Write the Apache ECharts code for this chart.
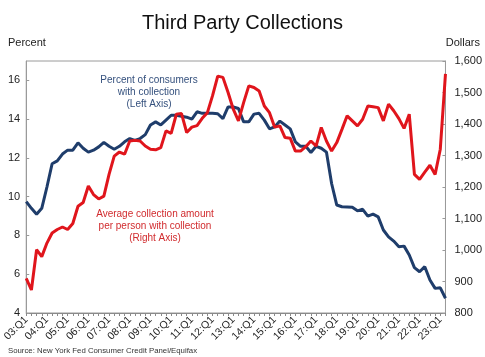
<!DOCTYPE html>
<html>
<head>
<meta charset="utf-8">
<script src="https://cdn.jsdelivr.net/npm/echarts@6/dist/echarts.min.js"></script>
<style>
html,body{margin:0;padding:0;background:#fff;}
#chart{width:485px;height:357px;}
</style>
</head>
<body>
<div id="chart"></div>
<script>
// Quarters 03:Q1 .. 23:Q2
var quarters = [];
for (var y = 3; y <= 23; y++) {
  for (var q = 1; q <= 4; q++) {
    if (y === 23 && q > 2) break;
    quarters.push((y < 10 ? '0' + y : '' + y) + ':Q' + q);
  }
}

// Percent of consumers with collection (left axis, %)
var pctConsumers = [
  9.75, 9.4, 9.1, 9.4, 10.5, 11.7, 11.85, 12.2, 12.4, 12.4,
  12.78, 12.5, 12.3, 12.4, 12.57, 12.8, 12.6, 12.45, 12.6, 12.83,
  13.0, 12.9, 13.0, 13.2, 13.7, 13.86, 13.7, 13.95, 14.2, 14.2,
  14.15, 14.1, 14.0, 14.38, 14.3, 14.3, 14.3, 14.28, 14.03, 14.63,
  14.63, 14.55, 13.86, 13.86, 14.26, 14.3, 13.95, 13.5, 13.6, 13.9,
  13.7, 13.5, 12.83, 12.6, 12.6, 12.28, 12.6, 12.5, 12.3, 10.68,
  9.57, 9.48, 9.47, 9.45, 9.27, 9.35, 9.0, 9.1, 8.96, 8.28,
  7.93, 7.71, 7.42, 7.45, 6.99, 6.34, 6.13, 6.39, 5.7, 5.27,
  5.3, 4.76
];

// Average collection amount per person with collection (right axis, $)
var avgAmount = [
  910, 873, 1001, 979, 1022, 1054, 1065, 1073, 1065, 1084,
  1139, 1151, 1203, 1176, 1162, 1171, 1240, 1298, 1311, 1304,
  1346, 1348, 1346, 1330, 1320, 1318, 1325, 1378, 1370, 1431,
  1433, 1373, 1390, 1395, 1418, 1436, 1490, 1552, 1548, 1500,
  1447, 1410, 1468, 1521, 1516, 1505, 1457, 1436, 1390, 1394,
  1357, 1355, 1314, 1314, 1328, 1346, 1330, 1389, 1346, 1314,
  1341, 1383, 1426, 1410, 1394, 1415, 1457, 1455, 1452, 1410,
  1463, 1442, 1417, 1386, 1431, 1240, 1224, 1247, 1269, 1240,
  1320, 1559
];

var chart = echarts.init(document.getElementById('chart'), null, {renderer: 'canvas'});
var FONT = 'Liberation Sans, Arial, sans-serif';

function comma(v) {
  var s = String(v);
  return s.length > 3 ? s.slice(0, s.length - 3) + ',' + s.slice(s.length - 3) : s;
}

chart.setOption({
  animation: false,
  backgroundColor: '#ffffff',
  textStyle: {fontFamily: FONT},
  title: {
    text: 'Third Party Collections',
    left: 'center',
    top: 8,
    textStyle: {fontFamily: FONT, fontSize: 20, fontWeight: 'normal', color: '#111'}
  },
  grid: {
    left: 23, right: 37, top: 61, bottom: 44,
    show: true, borderColor: '#9a9a9a', borderWidth: 1
  },
  xAxis: {
    type: 'category',
    data: quarters,
    boundaryGap: false,
    axisLine: {lineStyle: {color: '#8a8a8a'}},
    axisTick: {show: true, interval: 0, length: 3, lineStyle: {color: '#8a8a8a'}},
    axisLabel: {
      interval: 3, rotate: 45, fontSize: 10.5, color: '#222', margin: 5, fontFamily: FONT
    },
    splitLine: {show: false}
  },
  yAxis: [
    {
      type: 'value', min: 4, max: 17, interval: 2,
      axisLine: {show: true, lineStyle: {color: '#9a9a9a'}},
      axisTick: {show: true, inside: true, length: 3, lineStyle: {color: '#9a9a9a'}},
      axisLabel: {fontSize: 11, color: '#222', margin: 6, showMaxLabel: false, fontFamily: FONT},
      splitLine: {show: false}
    },
    {
      type: 'value', min: 800, max: 1600, interval: 100,
      axisLine: {show: true, lineStyle: {color: '#9a9a9a'}},
      axisTick: {show: true, inside: true, length: 3, lineStyle: {color: '#9a9a9a'}},
      axisLabel: {fontSize: 11, color: '#222', margin: 9, formatter: comma, fontFamily: FONT},
      splitLine: {show: false}
    }
  ],
  series: [
    {
      name: 'Percent of consumers with collection',
      type: 'line', yAxisIndex: 0, data: pctConsumers,
      showSymbol: false, smooth: false,
      lineStyle: {color: '#1f3d6b', width: 3},
      z: 2
    },
    {
      name: 'Average collection amount per person with collection',
      type: 'line', yAxisIndex: 1, data: avgAmount,
      showSymbol: false, smooth: false,
      lineStyle: {color: '#e0151c', width: 3},
      z: 3
    }
  ],
  graphic: [
    {type: 'text', left: 8, top: 37, style: {text: 'Percent', font: '11px ' + FONT, fill: '#222'}},
    {type: 'text', right: 5, top: 37, style: {text: 'Dollars', font: '11px ' + FONT, fill: '#222'}},
    {type: 'text', x: 149, y: 74, style: {
      text: 'Percent of consumers\nwith collection\n(Left Axis)',
      font: '10px ' + FONT, fill: '#34507d', textAlign: 'center', lineHeight: 12
    }},
    {type: 'text', x: 155, y: 208, style: {
      text: 'Average collection amount\nper person with collection\n(Right Axis)',
      font: '10px ' + FONT, fill: '#d12b2e', textAlign: 'center', lineHeight: 12
    }},
    {type: 'text', left: 8, top: 347, style: {
      text: 'Source: New York Fed Consumer Credit Panel/Equifax',
      font: '7.8px ' + FONT, fill: '#333'
    }}
  ]
});
</script>
</body>
</html>
